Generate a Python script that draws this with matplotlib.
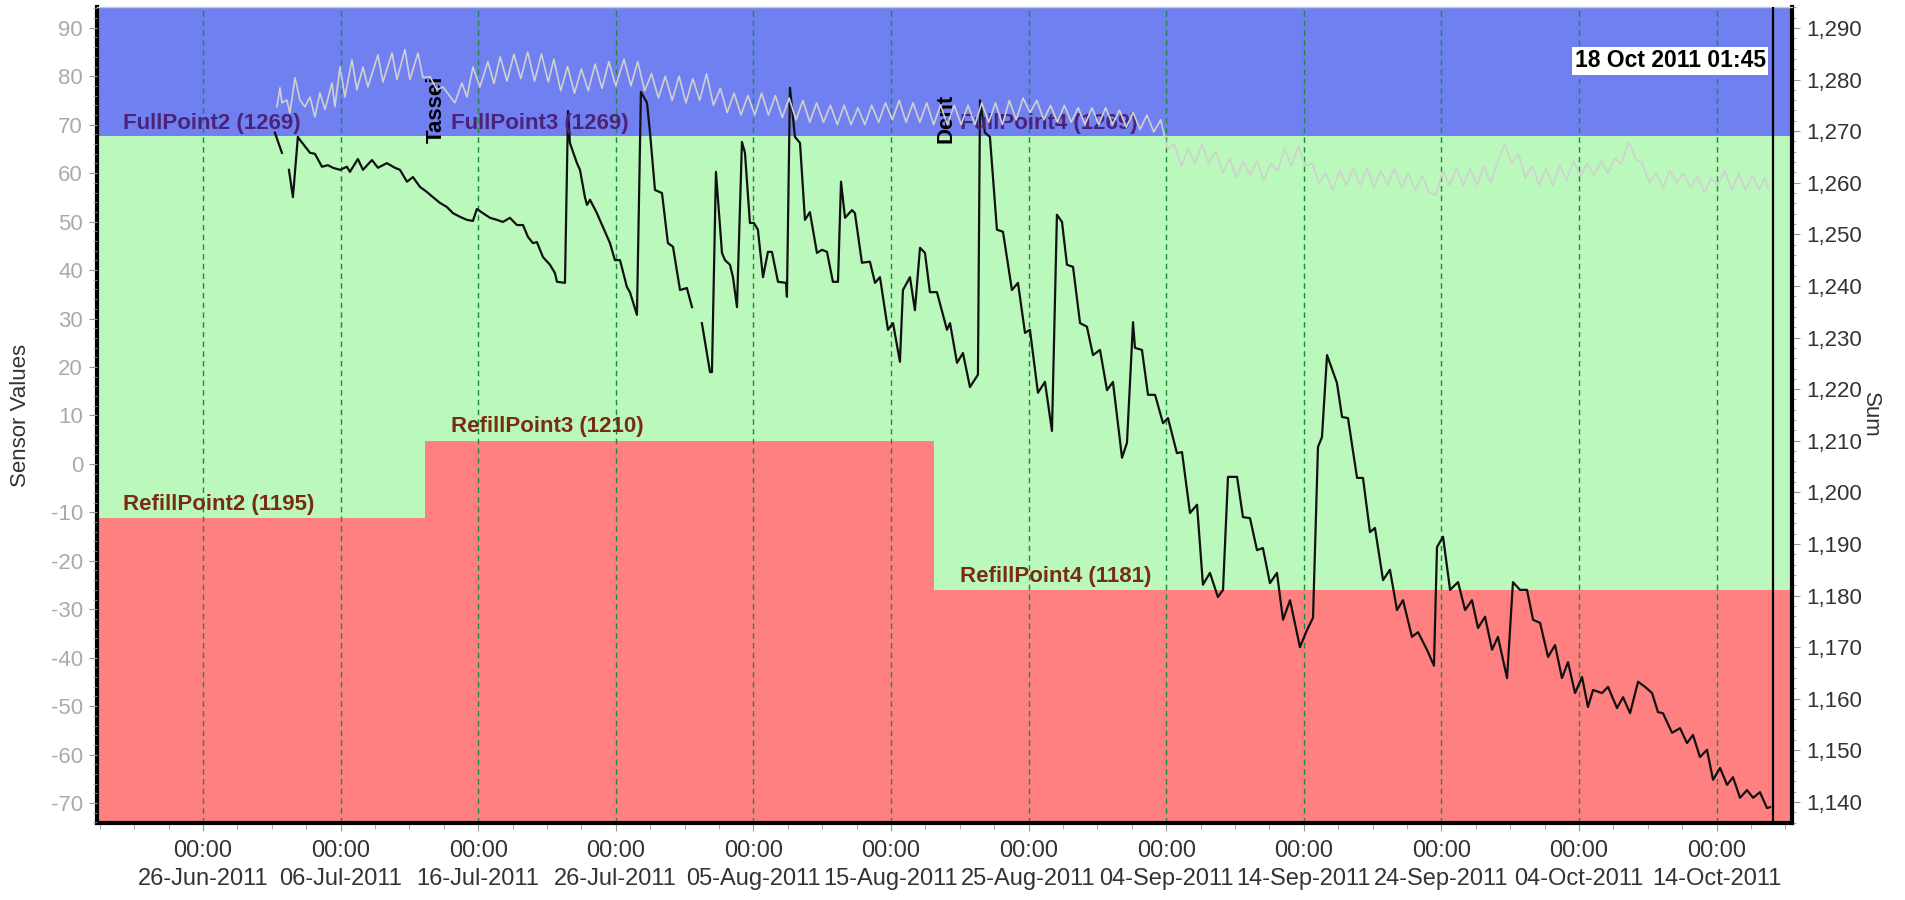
import matplotlib
matplotlib.use("Agg")
import matplotlib.pyplot as plt
import matplotlib.dates as mdates
import matplotlib.ticker as mticker
import numpy as np
import pandas as pd

plt.rcParams['font.family'] = ['Liberation Sans', 'DejaVu Sans']
plt.rcParams['axes.unicode_minus'] = False

start = pd.Timestamp('2011-06-26')
nan = np.nan

# Sum series (right axis): days after 26-Jun-2011 00:00, value (nan = gap)
sum_days = [5.23, 5.74, 6.00, 6.25, 6.54, 6.90, 7.05, 7.78, 8.14, 8.65, 9.08, 9.45, 9.96,
            10.47, 10.68, 11.26, 11.63, 12.28, 12.72, 13.37, 13.95, 14.32, 14.83, 15.26,
            15.77, 16.28, 16.72, 17.22, 17.73, 18.17, 18.68, 19.19, 19.62, 19.91, 20.35,
            20.86, 21.37, 21.80, 22.31, 22.82, 23.26, 23.62, 23.98, 24.27, 24.71, 25.22,
            25.58, 25.73, 26.31, 26.53, 26.67, 27.18, 27.40, 27.76, 27.91, 28.13, 28.63,
            29.07, 29.58, 29.94, 30.31, 30.81, 31.03, 31.54, 31.83, 32.27, 32.49, 32.85,
            33.36, 33.79, 34.16, 34.67, 35.17, 35.54, 35.90, 36.26, 36.85, 36.99, 37.28,
            37.72, 37.94, 38.30, 38.52, 38.81, 39.17, 39.39, 39.75, 40.04, 40.33, 40.70,
            41.06, 41.35, 41.79, 42.37, 42.44, 42.66, 43.02, 43.39, 43.75, 44.11, 44.62,
            44.99, 45.35, 45.78, 46.15, 46.37, 46.66, 47.17, 47.38, 47.89, 48.47, 48.84,
            49.20, 49.78, 50.15, 50.65, 50.87, 51.38, 51.74, 52.11, 52.47, 52.83, 53.34,
            54.07, 54.29, 54.80, 55.23, 55.74, 56.32, 56.47, 56.83, 57.19, 57.70, 58.14,
            58.79, 59.23, 59.74, 60.10, 60.68, 61.19, 61.70, 62.06, 62.43, 62.79, 63.23,
            63.74, 64.24, 64.68, 65.19, 65.70, 66.13, 66.79, 67.15, 67.59, 67.73, 68.24,
            68.68, 69.19, 69.77, 70.13, 70.78, 71.15, 71.73, 72.24, 72.67, 73.18, 73.76,
            74.13, 74.49, 75.15, 75.58, 76.09, 76.60, 77.03, 77.54, 78.05, 78.49, 79.00,
            79.72, 80.23, 80.67, 81.03, 81.32, 81.69, 82.41, 82.78, 83.21, 83.87, 84.30,
            84.81, 85.17, 85.76, 86.26, 86.77, 87.21, 87.86, 88.30, 88.95, 89.46, 89.68,
            90.12, 90.63, 91.21, 91.72, 92.22, 92.66, 93.17, 93.68, 94.11, 94.77, 95.20,
            95.71, 96.22, 96.66, 97.17, 97.75, 98.26, 98.76, 99.20, 99.71, 100.22, 100.65,
            101.02, 101.67, 102.11, 102.76, 103.20, 103.71, 104.29, 104.80, 105.31, 105.74,
            106.10, 106.76, 107.34, 107.85, 108.28, 108.79, 109.30, 109.74, 110.25, 110.76,
            111.19, 111.70, 112.21, 112.65, 113.15, 113.66, 113.88]
sum_values = [1269.7, 1265.8, nan, 1262.5, 1257.2, 1268.9, 1268.3, 1265.8, 1265.6, 1263.1, 1263.4,
              1262.9, 1262.5, 1263.1, 1262.1, 1264.6, 1262.5, 1264.4, 1262.9, 1263.8, 1262.9,
              1262.5, 1260.2, 1261.1, 1259.2, 1258.2, 1257.2, 1256.1, 1255.3, 1254.1, 1253.4,
              1252.8, 1252.6, 1254.9, 1254.1, 1253.2, 1252.8, 1252.4, 1253.2, 1251.8, 1251.8,
              1249.5, 1248.3, 1248.5, 1245.6, 1244.1, 1242.5, 1240.8, 1240.6, 1273.9, 1267.7,
              1263.8, 1262.5, 1257.2, 1255.7, 1256.7, 1254.1, 1251.4, 1248.3, 1245.0, 1245.0,
              1239.8, 1238.8, 1234.4, 1277.6, 1275.5, 1269.7, 1258.6, 1258.0, 1248.3, 1247.6,
              1239.2, 1239.6, 1235.9, nan, 1232.8, 1223.3, 1223.3, 1262.1, 1246.4, 1245.0,
              1244.1, 1241.7, 1235.9, 1267.9, 1265.8, 1252.2, 1252.2, 1250.9, 1241.7, 1246.6,
              1246.6, 1240.8, 1240.6, 1237.9, 1278.4, 1268.9, 1267.7, 1252.8, 1254.3, 1246.4,
              1247.0, 1246.6, 1240.8, 1240.8, 1260.2, 1253.2, 1254.7, 1254.1, 1244.5, 1244.7,
              1240.6, 1241.7, 1231.5, 1232.8, 1225.3, 1239.2, 1241.7, 1235.3, 1247.4, 1246.4,
              1238.8, 1238.8, 1231.5, 1232.8, 1225.1, 1227.0, 1220.4, 1222.8, 1276.0, 1269.7,
              1268.9, 1250.9, 1250.5, 1239.2, 1240.6, 1230.9, 1231.5, 1219.3, 1221.4, 1211.9,
              1253.8, 1252.4, 1244.1, 1243.7, 1232.8, 1232.1, 1226.6, 1227.6, 1219.8, 1221.4,
              1206.7, 1209.6, 1233.0, 1228.0, 1227.6, 1218.9, 1218.9, 1213.4, 1214.4, 1207.6,
              1207.8, 1196.0, 1197.6, 1182.1, 1184.4, 1179.7, 1181.1, 1203.0, 1203.0, 1195.2,
              1195.0, 1188.8, 1189.2, 1182.4, 1184.4, 1175.3, 1179.1, 1170.0, 1173.3, 1175.7,
              1208.8, 1210.7, 1226.6, 1221.2, 1214.6, 1214.4, 1202.8, 1202.8, 1192.3, 1193.1,
              1183.0, 1185.0, 1177.2, 1179.1, 1172.0, 1172.9, 1169.5, 1166.4, 1189.4, 1191.4,
              1181.1, 1182.6, 1177.2, 1179.1, 1173.7, 1175.9, 1169.5, 1172.0, 1164.0, 1182.6,
              1181.1, 1181.1, 1175.3, 1174.7, 1168.1, 1170.4, 1164.0, 1167.1, 1161.1, 1164.2,
              1158.4, 1161.7, 1161.1, 1162.3, 1158.2, 1160.3, 1157.2, 1163.3, 1162.3, 1161.1,
              1157.4, 1157.2, 1153.4, 1154.3, 1151.4, 1153.0, 1148.7, 1150.1, 1144.3, 1146.6,
              1143.3, 1144.8, 1140.8, 1142.3, 1140.8, 1141.9, 1138.8, 1139.0]

# Sensor series (left axis), daily up/down swings
sensor_days = [5.38, 5.60, 5.74, 6.10, 6.32, 6.69, 7.05, 7.41, 7.78, 8.14, 8.50, 8.87, 9.38,
               9.59, 9.96, 10.32, 10.83, 11.19, 11.63, 11.99, 12.72, 13.08, 13.74, 14.10,
               14.68, 15.04, 15.63, 15.99, 16.50, 17.01, 17.44, 18.31, 18.82, 19.19, 19.62,
               20.13, 20.71, 21.15, 21.6, 22.1, 22.6, 23.1, 23.6, 24.1, 24.6, 25.1, 25.5,
               26.0, 26.5, 27.0, 27.5, 28.0, 28.5, 29.0, 29.5, 30.0, 30.6, 31.1, 31.6, 32.1,
               32.6, 33.1, 33.6, 34.1, 34.6, 35.1, 35.6, 36.1, 36.6, 37.1, 37.6, 38.1, 38.6,
               39.1, 39.6, 40.1, 40.6, 41.1, 41.6, 42.1, 42.6, 43.1, 43.6, 44.1, 44.6, 45.1,
               45.6, 46.1, 46.6, 47.1, 47.6, 48.1, 48.6, 49.1, 49.6, 50.1, 50.6, 51.1, 51.6,
               52.1, 52.6, 53.1, 53.6, 54.1, 54.6, 55.1, 55.6, 56.1, 56.6, 57.1, 57.6, 58.1,
               58.6, 59.1, 59.6, 60.1, 60.6, 61.1, 61.6, 62.1, 62.6, 63.1, 63.6, 64.1, 64.6,
               65.1, 65.6, 66.1, 66.6, 67.1, 67.6, 68.1, 68.6, 69.1, 69.6, 70.1, 70.6, 71.1,
               71.6, 72.1, 72.6, 73.1, 73.6, 74.1, 74.6, 75.1, 75.6, 76.1, 76.6, 77.1, 77.6,
               78.1, 78.6, 79.1, 79.6, 80.1, 80.6, 81.1, 81.6, 82.1, 82.6, 83.1, 83.6, 84.1,
               84.6, 85.1, 85.6, 86.1, 86.6, 87.1, 87.6, 88.1, 88.6, 89.1, 89.6, 90.1, 90.6,
               91.1, 91.6, 92.1, 92.6, 93.1, 93.6, 94.1, 94.6, 95.1, 95.6, 96.1, 96.6, 97.1,
               97.6, 98.1, 98.6, 99.1, 99.6, 100.1, 100.6, 101.1, 101.6, 102.1, 102.6, 103.1,
               103.6, 104.1, 104.6, 105.1, 105.6, 106.1, 106.6, 107.1, 107.6, 108.1, 108.6,
               109.1, 109.6, 110.1, 110.6, 111.1, 111.6, 112.1, 112.6, 113.1, 113.5, 113.74]
sensor_values = [73.7, 77.6, 74.5, 75.1, 72.4, 79.7, 75.1, 73.7, 75.7, 71.6, 76.6, 73.1, 78.6,
                 73.7, 81.9, 75.7, 83.4, 77.2, 81.9, 77.8, 84.4, 78.8, 84.8, 79.3, 85.5, 79.3,
                 84.8, 79.7, 79.9, 77.2, 77.8, 74.5, 78.6, 75.7, 81.9,
                 77.8, 83.0, 78.5, 84.0, 79.0, 84.5, 79.5, 85.0, 79.0, 84.6, 78.8, 83.5,
                 77.0, 82.0, 76.5, 81.5, 77.0, 82.5, 77.5, 83.0, 78.0, 83.5, 78.0, 83.0, 77.0,
                 80.5, 75.5, 80.0, 75.0, 80.0, 74.5, 79.5, 75.0, 80.5, 74.0, 77.5, 72.5, 76.5,
                 72.0, 76.0, 72.0, 76.5, 72.0, 76.0, 71.5, 75.5, 71.0, 75.0, 70.5, 74.5, 70.5,
                 74.0, 70.0, 74.0, 70.0, 73.5, 70.0, 74.0, 70.5, 74.5, 71.0, 75.0, 70.5, 74.5,
                 70.5, 74.5, 70.0, 74.0, 70.0, 74.0, 70.0, 74.0, 70.0, 74.5, 70.5, 74.5, 70.0,
                 75.0, 71.0, 75.5, 72.5, 75.0, 71.0, 74.0, 70.5, 74.0, 70.5, 73.5, 70.0, 73.5,
                 70.0, 73.5, 70.0, 73.0, 69.5, 72.5, 69.0, 72.0, 68.5, 71.0, 65.0, 66.0, 61.5,
                 65.0, 62.0, 66.0, 62.0, 64.5, 60.0, 63.0, 59.0, 62.5, 59.5, 62.5, 58.5, 62.0,
                 60.5, 65.0, 61.5, 65.5, 61.5, 62.0, 58.0, 60.0, 56.5, 60.5, 57.5, 61.0, 57.5,
                 61.0, 57.0, 60.5, 57.5, 61.0, 57.0, 60.0, 56.5, 59.5, 56.0, 55.5, 60.5, 57.5,
                 61.0, 57.5, 61.0, 57.5, 61.5, 58.0, 62.5, 66.0, 62.0, 64.0, 59.0, 61.5, 57.5,
                 61.0, 57.5, 61.5, 58.5, 62.5, 59.5, 62.0, 59.5, 62.5, 60.0, 63.0, 62.0,
                 66.5, 63.0, 62.0, 58.0, 60.0, 57.0, 60.5, 58.0, 60.0, 57.0, 59.5,
                 56.0, 59.0, 57.5, 60.5, 56.5, 60.0, 56.5, 59.5, 56.5, 59.0, 56.9]

# fill / refill levels (Sum units)
full_level = 1269
refill_start_days = [-7.7, 16.13, 53.12]
refill_levels = [1195, 1210, 1181]
full_labels = ['FullPoint2 (1269)', 'FullPoint3 (1269)', 'FullPoint4 (1269)']
refill_labels = ['RefillPoint2 (1195)', 'RefillPoint3 (1210)', 'RefillPoint4 (1181)']
event_names = ['Tassei', 'Dent']
cursor_time = pd.Timestamp('2011-10-18 01:45')

tick_dates = pd.date_range('2011-06-26', periods=12, freq='10D')
minor_dates = pd.date_range('2011-06-18 12:00', '2011-10-19', freq='60h')
x_min = start - pd.Timedelta(days=7.7)
x_max = start + pd.Timedelta(days=115.48)

BLUE = '#7080f0'
GREEN = '#bbf8bb'
RED = '#ff8080'

sum_t = start + pd.to_timedelta(sum_days, unit='D')
sen_t = start + pd.to_timedelta(sensor_days, unit='D')
refill_t = list(start + pd.to_timedelta(refill_start_days, unit='D')) + [x_max]

fig = plt.figure(figsize=(19.05, 9.0), dpi=100)
ax = fig.add_axes([0.0509, 0.0856, 0.8898, 0.9067])
ax_sen = ax.twinx()
ax.yaxis.tick_right()
ax.yaxis.set_label_position('right')
ax_sen.yaxis.tick_left()
ax_sen.yaxis.set_label_position('left')

ax.set_xlim(x_min, x_max)
ax.set_ylim(1135.93, 1294.07)
ax_sen.set_ylim(-74.1, 94.3)

# coloured bands
ax.axhspan(full_level, 1300, color=BLUE, lw=0, zorder=0.8)
ax.axhspan(1100, full_level, color=GREEN, lw=0, zorder=0.8)
ax.fill_between(refill_t, 1100, refill_levels + [refill_levels[-1]], step='post',
                color=RED, lw=0, zorder=0.9)

ax.set_axisbelow('line')
ax.grid(axis='x', which='major', color='#1a8c3c', linestyle=(0, (4, 3)), linewidth=1.0)

ax.plot(sum_t, sum_values, color='#111111', lw=1.6, zorder=3)
ax_sen.plot(sen_t, sensor_values, color='#d0d0d0', lw=1.2, zorder=2)

ax.axvline(cursor_time, color='black', lw=1.6, zorder=4)
ax.annotate(cursor_time.strftime('%d %b %Y %H:%M'), xy=(cursor_time, 0.934),
            xycoords=('data', 'axes fraction'), xytext=(-5, 0), textcoords='offset points',
            ha='right', va='center', fontsize=16.5, fontweight='bold',
            bbox=dict(fc='white', ec='none', pad=2), zorder=5)

for i, t in enumerate(refill_t[:3]):
    ax.annotate(full_labels[i], xy=(t, full_level), xytext=(19, 5), textcoords='offset points',
                ha='left', va='baseline', fontsize=16, fontweight='bold', color='#4b2378')
    ax.annotate(refill_labels[i], xy=(t, refill_levels[i]), xytext=(19, 6),
                textcoords='offset points', ha='left', va='baseline', fontsize=16,
                fontweight='bold', color='#7a2c12')

for name, t in zip(event_names, refill_t[1:3]):
    ax.annotate(name, xy=(t, full_level), xytext=(8.5, -5), textcoords='offset points',
                rotation=90, ha='center', va='bottom', fontsize=16, fontweight='bold',
                color='black')

# x axis
ax.xaxis.set_major_locator(mticker.FixedLocator(mdates.date2num(tick_dates)))
ax.xaxis.set_minor_locator(mticker.FixedLocator(mdates.date2num(minor_dates)))
ax.xaxis.set_major_formatter(mdates.DateFormatter('%H:%M\n%d-%b-%Y'))
ax.tick_params(axis='x', which='major', length=6, color='#999999', labelsize=17,
               labelcolor='#333333', pad=6)
ax.tick_params(axis='x', which='minor', length=4, color='#999999')
for lbl in ax.get_xticklabels():
    lbl.set_linespacing(1.35)

# y axes
ax.yaxis.set_major_locator(mticker.MultipleLocator(10))
ax.yaxis.set_minor_locator(mticker.MultipleLocator(2))
ax.yaxis.set_major_formatter(mticker.StrMethodFormatter('{x:,.0f}'))
ax.tick_params(axis='y', which='major', length=6, color='#999999', labelsize=16,
               labelcolor='#333333', pad=4)
ax.tick_params(axis='y', which='minor', length=3, color='#999999')
ax_sen.yaxis.set_major_locator(mticker.MultipleLocator(10))
ax_sen.yaxis.set_minor_locator(mticker.MultipleLocator(2))
ax_sen.tick_params(axis='y', which='major', length=6, color='#999999', labelsize=16,
                   labelcolor='#aaaaaa', pad=4)
ax_sen.tick_params(axis='y', which='minor', length=3, color='#999999')

ax_sen.set_ylabel('Sensor Values', fontsize=16, color='#333333', labelpad=14)
ax.set_ylabel('Sum', fontsize=16, color='#333333', rotation=270, labelpad=14)

for s in ax_sen.spines.values():
    s.set_visible(False)
for side in ('left', 'bottom', 'right'):
    ax.spines[side].set_linewidth(3)
    ax.spines[side].set_color('black')
ax.spines['top'].set_linewidth(1)
ax.spines['top'].set_color('#cccccc')

fig.savefig('out.png', dpi=100)
